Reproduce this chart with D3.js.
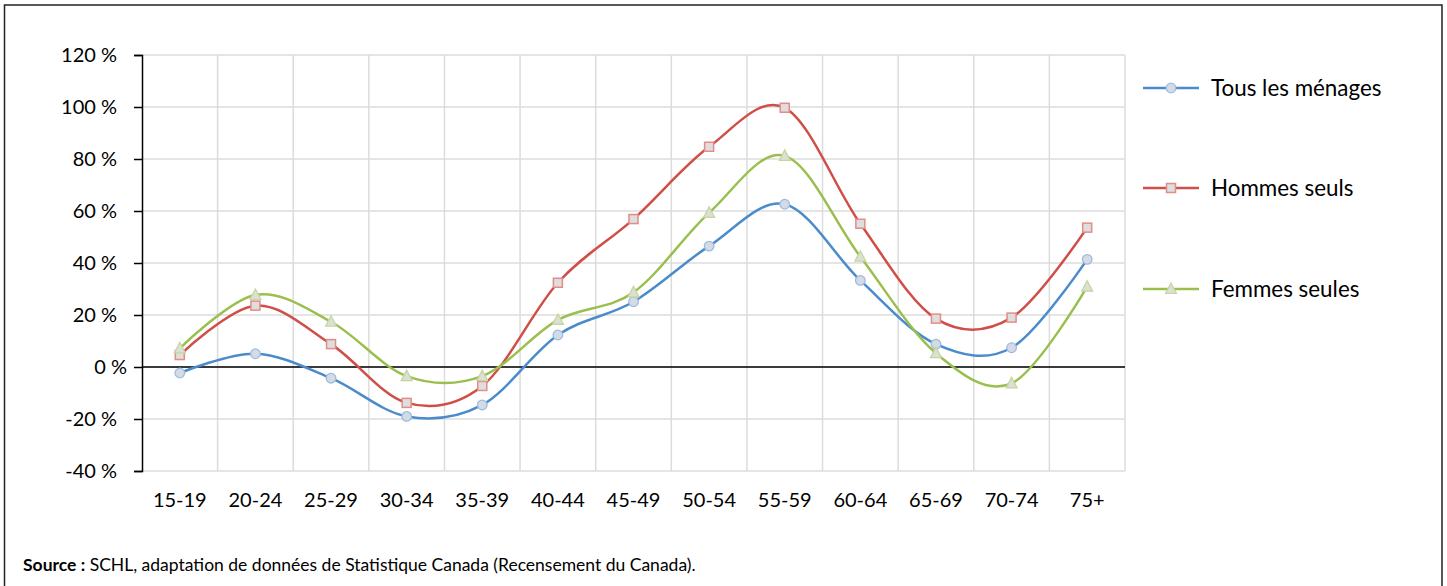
<!DOCTYPE html>
<html><head><meta charset="utf-8">
<script src="https://cdn.jsdelivr.net/npm/d3@7"></script>
<style>
html,body{margin:0;padding:0;background:#fff;}
svg{display:block;}
text{font-family:Lato,"Open Sans",sans-serif;fill:#000;}
</style></head>
<body>
<svg id="chart" width="1447" height="586"></svg>
<script>
const categories = ["15-19","20-24","25-29","30-34","35-39","40-44","45-49","50-54","55-59","60-64","65-69","70-74","75+"];
const tousMenages = [-2.3, 5.1, -4.3, -19.0, -14.6, 12.3, 25.1, 46.5, 62.6, 33.3, 8.8, 7.4, 41.4];
const hommesSeuls = [4.6, 23.6, 8.8, -13.8, -7.3, 32.4, 56.9, 84.7, 99.7, 55.1, 18.6, 19.0, 53.6];
const femmesSeules = [7.2, 27.7, 17.4, -3.5, -3.5, 18.1, 28.7, 59.3, 81.2, 42.4, 5.3, -6.3, 30.9];
const yTicks = [-40, -20, 0, 20, 40, 60, 80, 100, 120];
const seriesNames = ["Tous les ménages", "Hommes seuls", "Femmes seules"];
const sourceLabel = "Source :";
const sourceText = " SCHL, adaptation de données de Statistique Canada (Recensement du Canada).";

const series = [
  {name: seriesNames[0], values: tousMenages, color: "#4a8ccb", mStroke: "#9dbbe0", mFill: "#d5dbe4", marker: "circle"},
  {name: seriesNames[1], values: hommesSeuls, color: "#cf4f48", mStroke: "#e48c88", mFill: "#dedede", marker: "square"},
  {name: seriesNames[2], values: femmesSeules, color: "#9bbf4e", mStroke: "#c3d69c", mFill: "#dcdfd4", marker: "triangle"}
];

const svg = d3.select("#chart");
// outer frame
svg.append("rect").attr("x", 4.5).attr("y", 5).attr("width", 1437.5).attr("height", 600)
  .attr("fill", "none").attr("stroke", "#222").attr("stroke-width", 1.5);

const L = 142, R = 1125, T = 55, B = 471;
const x = d3.scaleBand().domain(categories).range([L, R]);
const y = d3.scaleLinear().domain([-40, 120]).range([B, T]);

const g = svg.append("g");
// horizontal gridlines
g.selectAll(".hg").data(yTicks).join("line")
  .attr("x1", L).attr("x2", R).attr("y1", d => y(d)).attr("y2", d => y(d))
  .attr("stroke", "#dcdcdc").attr("stroke-width", 1.5);
// vertical gridlines at category boundaries
const bounds = categories.map(c => x(c) + x.bandwidth());
g.selectAll(".vg").data(bounds).join("line")
  .attr("x1", d => d).attr("x2", d => d).attr("y1", T).attr("y2", B)
  .attr("stroke", "#dcdcdc").attr("stroke-width", 1.5);

// zero line
g.append("line").attr("x1", L).attr("x2", R).attr("y1", y(0)).attr("y2", y(0))
  .attr("stroke", "#000").attr("stroke-width", 1.5);

// y axis
const yAxis = d3.axisLeft(y).tickValues(yTicks).tickSize(8).tickPadding(17)
  .tickFormat(d => d + " %");
const ya = svg.append("g").attr("transform", `translate(${L},0)`).call(yAxis);
ya.select(".domain").attr("stroke", "#000").attr("stroke-width", 1.5);
ya.selectAll(".tick line").attr("stroke", "#000").attr("stroke-width", 1.5);
ya.selectAll(".tick text").attr("font-size", 20).attr("font-family", "Lato,sans-serif").attr("fill", "#000")
  .attr("dx", d => d === 0 ? 10 : 0);

// x axis labels
const xAxis = d3.axisBottom(x).tickSize(0).tickPadding(22);
const xa = svg.append("g").attr("transform", `translate(0,${B})`).call(xAxis);
xa.select(".domain").remove();
xa.selectAll(".tick text").attr("font-size", 20).attr("font-family", "Lato,sans-serif").attr("fill", "#000");

const cx = c => x(c) + x.bandwidth() / 2;
const line = d3.line().x((d, i) => cx(categories[i])).y(d => y(d)).curve(d3.curveCatmullRom.alpha(0));

function drawMarker(sel, s, px, py) {
  if (s.marker === "circle") {
    sel.append("circle").attr("cx", px).attr("cy", py).attr("r", 4.8)
      .attr("fill", s.mFill).attr("stroke", s.mStroke).attr("stroke-width", 1.3);
  } else if (s.marker === "square") {
    sel.append("rect").attr("x", px - 4.5).attr("y", py - 4.5).attr("width", 9).attr("height", 9)
      .attr("fill", s.mFill).attr("stroke", s.mStroke).attr("stroke-width", 1.5);
  } else {
    const h = 10, w = 11;
    sel.append("path").attr("d", `M${px},${py - h * 0.6}L${px + w / 2},${py + h * 0.45}L${px - w / 2},${py + h * 0.45}Z`)
      .attr("fill", s.mFill).attr("stroke", s.mStroke).attr("stroke-width", 1.2);
  }
}

series.forEach(s => {
  const sg = svg.append("g");
  sg.append("path").datum(s.values).attr("d", line)
    .attr("fill", "none").attr("stroke", s.color).attr("stroke-width", 2.5);
  s.values.forEach((v, i) => drawMarker(sg, s, cx(categories[i]), y(v)));
});

// legend
const legY = [88, 188, 289];
series.forEach((s, i) => {
  const lg = svg.append("g");
  lg.append("line").attr("x1", 1143).attr("x2", 1199).attr("y1", legY[i]).attr("y2", legY[i])
    .attr("stroke", s.color).attr("stroke-width", 2.5);
  drawMarker(lg, s, 1171, legY[i]);
  lg.append("text").attr("x", 1211).attr("y", legY[i]).attr("dy", "0.36em")
    .attr("font-size", 22.4).text(s.name);
});

// source
const st = svg.append("text").attr("x", 23).attr("y", 571).attr("font-size", 17.5);
st.append("tspan").attr("font-weight", "bold").text(sourceLabel);
st.append("tspan").text(sourceText);
</script>
</body></html>
